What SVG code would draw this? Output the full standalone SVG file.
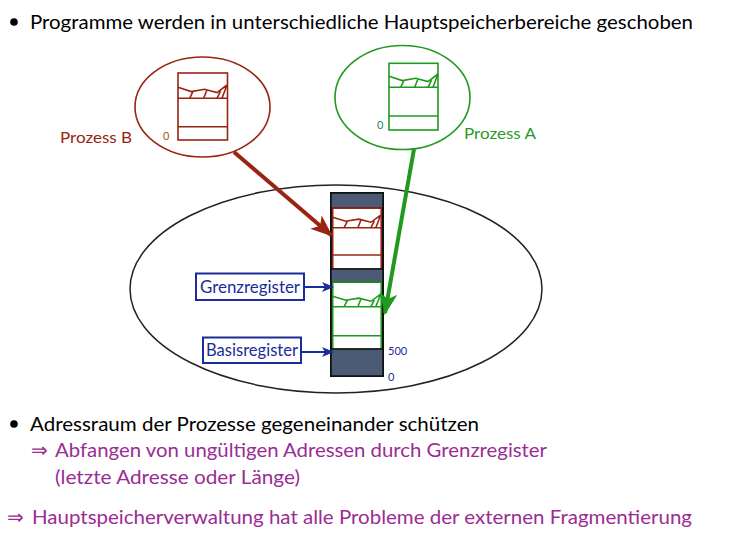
<svg xmlns="http://www.w3.org/2000/svg" width="739" height="541" viewBox="0 0 739 541">
<style>
.t{font-family:Lato,"Open Sans","Liberation Sans",sans-serif;}
.blk{fill:#000;font-size:20px;}
.pur{fill:#9a2c94;font-size:20px;}
.reg{fill:#1a2d9a;font-size:17px;}
.num{fill:#1a2d9a;font-size:11px;}
.dark{fill:#4b5b76;stroke:#111;stroke-width:1.5;}
.red{stroke:#9a2414;fill:none;stroke-width:1.6;}
.grn{stroke:#1f9a1f;fill:none;stroke-width:1.6;}
</style>
<defs>
<path id="wave" d="M0,-11 L13.3,-6.7 L26.7,-9 L39,-5.7 L49,-13.3 M11.7,0 L15,-6.9 M25.7,0 L29,-8.6 M39,0 L42.5,-7.2 M44,0 L49,-13.3"/>
<marker id="ahR" viewBox="0 0 20 16" refX="18" refY="8" markerWidth="5.5" markerHeight="4.5" markerUnits="strokeWidth" orient="auto">
<path d="M0,0 L20,8 L0,16 L5,8 Z" fill="#9a2414"/>
</marker>
<marker id="ahG" viewBox="0 0 20 16" refX="18" refY="8" markerWidth="5.5" markerHeight="4.5" markerUnits="strokeWidth" orient="auto">
<path d="M0,0 L20,8 L0,16 L5,8 Z" fill="#1f9a1f"/>
</marker>
<marker id="ahB" viewBox="0 0 12 10" refX="11" refY="5" markerWidth="6" markerHeight="5" markerUnits="strokeWidth" orient="auto">
<path d="M0,0 L12,5 L0,10 L3,5 Z" fill="#1a2d9a"/>
</marker>
</defs>

<g id="title">
<circle cx="14" cy="22" r="3.8" fill="#000"/>
<text class="t blk" x="30" y="29" textLength="663" lengthAdjust="spacingAndGlyphs">Programme werden in unterschiedliche Hauptspeicherbereiche geschoben</text>
</g>

<g id="adressraum">
<ellipse cx="336" cy="289" rx="206" ry="104" fill="none" stroke="#222" stroke-width="1.5"/>
</g>

<g id="prozessB">
<ellipse cx="202.5" cy="107" rx="67.5" ry="50" class="red" stroke-width="2.4"/>
<rect x="178" y="73" width="49.5" height="67" class="red"/>
<line x1="178" y1="98.3" x2="227.5" y2="98.3" class="red"/>
<line x1="178" y1="126.7" x2="227.5" y2="126.7" class="red" stroke-width="2"/>
<use href="#wave" transform="translate(178,98.3)" class="red" stroke-width="2"/>
<text class="t" x="163" y="140" font-size="11" fill="#b0520f">0</text>
<text class="t" x="60" y="143" font-size="16" fill="#9a2414" textLength="72" lengthAdjust="spacingAndGlyphs">Prozess B</text>
</g>

<g id="prozessA">
<ellipse cx="402.5" cy="97.5" rx="67.5" ry="52" class="grn" stroke-width="2.4"/>
<rect x="389" y="63.3" width="49" height="66.7" class="grn"/>
<line x1="389" y1="87.3" x2="438" y2="87.3" class="grn"/>
<line x1="389" y1="116" x2="438" y2="116" class="grn" stroke-width="2"/>
<use href="#wave" transform="translate(389,87.3)" class="grn" stroke-width="2"/>
<text class="t" x="377" y="129" font-size="11" fill="#1f8a6a">0</text>
<text class="t" x="464" y="139" font-size="16" fill="#2a9a2a" textLength="72" lengthAdjust="spacingAndGlyphs">Prozess A</text>
</g>

<g id="speicher">
<rect x="331" y="193" width="52" height="183" fill="#fff" stroke="#111" stroke-width="2"/>
<rect x="331" y="193" width="52" height="15" class="dark"/>
<rect x="332.7" y="208" width="48.5" height="61" class="red"/>
<line x1="332.7" y1="227.7" x2="381.2" y2="227.7" class="red"/>
<line x1="332.7" y1="255" x2="381.2" y2="255" class="red"/>
<use href="#wave" transform="translate(332.7,227.7) scale(0.98,0.95)" class="red" stroke-width="2"/>
<rect x="331" y="269" width="52" height="13" class="dark"/>
<rect x="332.7" y="282" width="48.5" height="67" class="grn"/>
<line x1="332.7" y1="306.7" x2="381.2" y2="306.7" class="grn"/>
<line x1="332.7" y1="335.7" x2="381.2" y2="335.7" class="grn"/>
<use href="#wave" transform="translate(332.7,306.7) scale(0.98,0.95)" class="grn" stroke-width="2"/>
<rect x="331" y="349" width="52" height="27" class="dark"/>
<text class="t num" x="388" y="355">500</text>
<text class="t num" x="388" y="381">0</text>
</g>

<g id="grenzregister">
<rect x="196" y="273.5" width="108" height="26.5" fill="#fff" stroke="#1a2d9a" stroke-width="2"/>
<text class="t reg" x="200" y="293" textLength="100" lengthAdjust="spacingAndGlyphs">Grenzregister</text>
</g>

<g id="basisregister">
<rect x="203" y="337.5" width="98" height="25.5" fill="#fff" stroke="#1a2d9a" stroke-width="2"/>
<text class="t reg" x="206" y="356" textLength="92" lengthAdjust="spacingAndGlyphs">Basisregister</text>
</g>

<g id="connectors">
<line x1="234" y1="152" x2="331" y2="235" stroke="#9a2414" stroke-width="4" marker-end="url(#ahR)"/>
<line x1="414" y1="149" x2="385" y2="313" stroke="#1f9a1f" stroke-width="4" marker-end="url(#ahG)"/>
<line x1="305" y1="287" x2="333" y2="287" stroke="#1a2d9a" stroke-width="2" marker-end="url(#ahB)"/>
<line x1="302" y1="352" x2="333" y2="352" stroke="#1a2d9a" stroke-width="2" marker-end="url(#ahB)"/>
</g>

<g id="text-unten">
<circle cx="14" cy="424" r="3.8" fill="#000"/>
<text class="t blk" x="30" y="431" textLength="449" lengthAdjust="spacingAndGlyphs">Adressraum der Prozesse gegeneinander schützen</text>
<text class="t pur" x="31" y="457">⇒</text>
<text class="t pur" x="55" y="457" textLength="492" lengthAdjust="spacingAndGlyphs">Abfangen von ungültigen Adressen durch Grenzregister</text>
<text class="t pur" x="55" y="484" textLength="245" lengthAdjust="spacingAndGlyphs">(letzte Adresse oder Länge)</text>
<text class="t pur" x="7" y="524">⇒</text>
<text class="t pur" x="32" y="524" textLength="660" lengthAdjust="spacingAndGlyphs">Hauptspeicherverwaltung hat alle Probleme der externen Fragmentierung</text>
</g>
</svg>
